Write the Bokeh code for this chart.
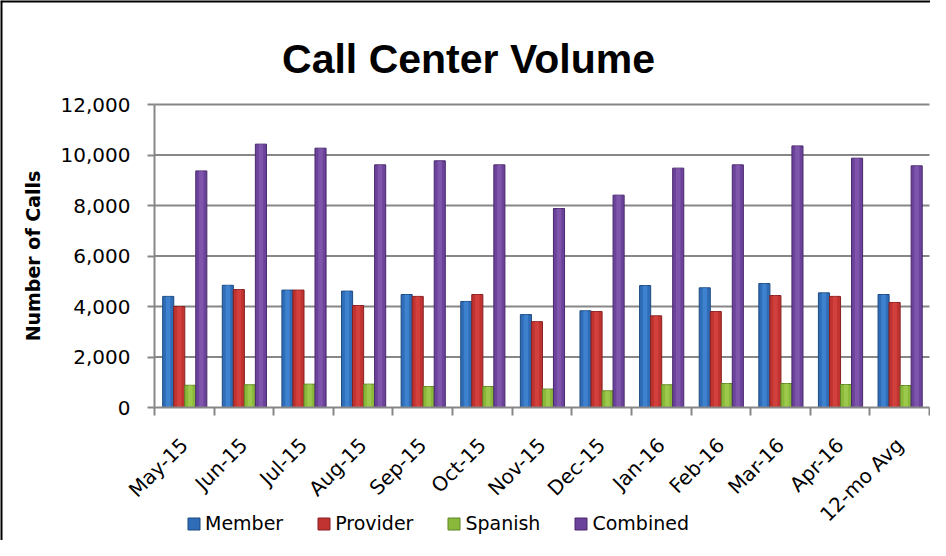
import math
from bokeh.plotting import figure
from bokeh.models import (ColumnDataSource, FixedTicker, NumeralTickFormatter, Range1d,
                          Legend, LegendItem, Label, Span)
from bokeh.embed import file_html
from bokeh.resources import INLINE

months = ["May-15", "Jun-15", "Jul-15", "Aug-15", "Sep-15", "Oct-15", "Nov-15",
          "Dec-15", "Jan-16", "Feb-16", "Mar-16", "Apr-16", "12-mo Avg"]
member = [4400, 4840, 4650, 4610, 4475, 4200, 3680, 3830, 4830, 4740, 4910, 4540, 4475]
provider = [4000, 4670, 4650, 4040, 4400, 4475, 3400, 3800, 3630, 3800, 4435, 4400, 4160]
spanish = [880, 900, 925, 925, 830, 830, 730, 660, 900, 950, 950, 910, 870]
combined = [9370, 10430, 10270, 9610, 9770, 9610, 7880, 8410, 9480, 9610, 10360, 9875, 9570]
y_ticks = [0, 2000, 4000, 6000, 8000, 10000, 12000]

series = [
    ("Member", member, "#2f6db8", "#4a90dc", "#1d4a80"),
    ("Provider", provider, "#c03330", "#dc4a44", "#862020"),
    ("Spanish", spanish, "#8ab83a", "#a8d258", "#5f8424"),
    ("Combined", combined, "#6b439a", "#8a62b8", "#48296c"),
]

FONT = "DejaVu Sans"
GRID = "#878787"
W, H = 930, 540

n = len(months)
centers = [i + 0.5 for i in range(n)]

# pixel geometry of the plotting area inside the canvas
AX_LEFT, AX_RIGHT = 154, 929
AX_TOP, AX_BOTTOM = 104, 407
ymax = y_ticks[-1]
xppu = (AX_RIGHT - AX_LEFT) / n
yppu = (AX_BOTTOM - AX_TOP) / ymax
x_start = -AX_LEFT / xppu
x_end = n + (W - AX_RIGHT) / xppu
y_end = ymax + AX_TOP / yppu
y_start = -(H - AX_BOTTOM) / yppu

p = figure(width=W, height=H, output_backend="svg", toolbar_location=None,
           x_range=Range1d(x_start, x_end), y_range=Range1d(y_start, y_end))
p.min_border_left = 0
p.min_border_right = 0
p.min_border_top = 0
p.min_border_bottom = 0
p.outline_line_color = None
p.background_fill_color = "white"
p.border_fill_color = "white"
p.xgrid.grid_line_color = None
p.ygrid.grid_line_color = None

# grid lines limited to the plotting area
gy = y_ticks[1:]
p.segment(x0=[0] * len(gy), x1=[n] * len(gy), y0=gy, y1=gy,
          line_color=GRID, line_width=2)

bw = 0.186
offsets = [-0.27, -0.085, 0.10, 0.285]
items = []
for (name, vals, col, light, dark), off in zip(series, offsets):
    src = ColumnDataSource(dict(x=[c + off for c in centers], top=vals))
    r = p.vbar(x="x", top="top", width=bw, source=src, fill_color=col,
               line_color=dark, line_width=1)
    p.vbar(x="x", top="top", width=bw * 0.4, source=src, fill_color=light,
           line_color=None, fill_alpha=0.6)
    items.append(LegendItem(label=name, renderers=[r]))

# x axis
xa = p.xaxis[0]
xa.fixed_location = 0
xa.bounds = (0, n)
xa.ticker = FixedTicker(ticks=centers, minor_ticks=list(range(n + 1)))
xa.major_label_overrides = {c: m for c, m in zip(centers, months)}
xa.major_tick_out = 0
xa.major_tick_in = 0
xa.minor_tick_out = 8
xa.minor_tick_in = 0
xa.minor_tick_line_color = GRID
xa.minor_tick_line_width = 2
xa.axis_line_color = GRID
xa.axis_line_width = 2
xa.major_label_orientation = math.pi / 4
xa.major_label_text_font = FONT
xa.major_label_text_font_size = "20px"
xa.major_label_text_color = "black"
xa.major_label_standoff = 26

# y axis
ya = p.yaxis[0]
ya.fixed_location = 0
ya.bounds = (0, ymax)
ya.ticker = FixedTicker(ticks=y_ticks)
ya.formatter = NumeralTickFormatter(format="0,0")
ya.major_tick_out = 7
ya.major_tick_in = 0
ya.minor_tick_out = 0
ya.minor_tick_in = 0
ya.major_tick_line_color = GRID
ya.major_tick_line_width = 2
ya.axis_line_color = GRID
ya.axis_line_width = 2
ya.major_label_text_font = FONT
ya.major_label_text_font_size = "20px"
ya.major_label_text_color = "black"
ya.major_label_standoff = 17
ya.axis_label = "Number of Calls"
ya.axis_label_text_font = FONT
ya.axis_label_text_font_style = "bold"
ya.axis_label_text_font_size = "19px"
ya.axis_label_text_color = "black"
ya.axis_label_standoff = 14

# chart border (left and top edges visible)
p.add_layout(Span(location=x_start, dimension="height", line_color="black", line_width=4))
p.add_layout(Span(location=y_end, dimension="width", line_color="black", line_width=4))

title = Label(x=468, y=H - 58, x_units="screen", y_units="screen",
              text="Call Center Volume", text_font="Liberation Sans",
              text_font_style="bold", text_font_size="41px",
              text_align="center", text_baseline="middle", text_color="black")
p.add_layout(title)

legend = Legend(items=items, orientation="horizontal", location=(186, 6))
legend.label_text_font = FONT
legend.label_text_font_size = "19px"
legend.label_text_color = "black"
legend.glyph_width = 15
legend.glyph_height = 15
legend.label_standoff = 4
legend.label_height = 20
legend.spacing = 33
legend.padding = 0
legend.margin = 0
legend.border_line_color = None
legend.background_fill_alpha = 0
p.add_layout(legend, "center")

open("out.html", "w").write(file_html(p, INLINE))
